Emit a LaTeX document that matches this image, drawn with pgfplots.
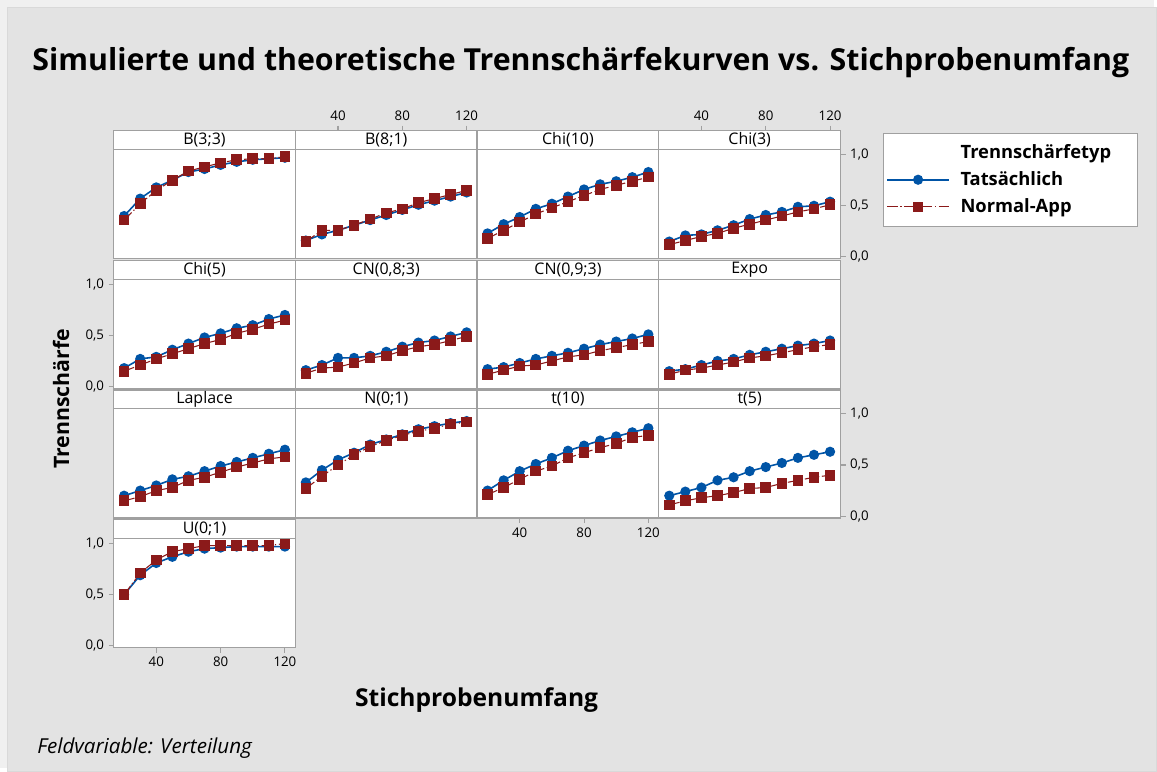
\documentclass[border=0pt]{standalone}
\usepackage{pgfplots}
\pgfplotsset{compat=1.18}
\usepackage{pgfplotstable}
\usepackage{fontspec}
\setmainfont{Open Sans}

\definecolor{bgouter}{HTML}{F0F0F0}
\definecolor{bgin}{HTML}{E3E3E3}
\definecolor{framegray}{HTML}{A0A0A0}
\definecolor{actblue}{HTML}{0054A6}
\definecolor{normred}{HTML}{8B1A1A}

\pgfplotstableread{
n a b
20 0.40 0.36
30 0.57 0.52
40 0.68 0.65
50 0.75 0.75
60 0.83 0.84
70 0.86 0.88
80 0.90 0.92
90 0.93 0.95
100 0.95 0.96
110 0.96 0.96
120 0.97 0.98
}\tBdd
\pgfplotstableread{
n a b
20 0.16 0.15
30 0.22 0.26
40 0.26 0.26
50 0.31 0.31
60 0.36 0.37
70 0.41 0.43
80 0.46 0.47
90 0.51 0.53
100 0.55 0.57
110 0.59 0.61
120 0.63 0.65
}\tBea
\pgfplotstableread{
n a b
20 0.23 0.18
30 0.32 0.26
40 0.39 0.34
50 0.47 0.42
60 0.52 0.48
70 0.59 0.54
80 0.66 0.60
90 0.71 0.66
100 0.74 0.70
110 0.78 0.74
120 0.83 0.78
}\tChiTen
\pgfplotstableread{
n a b
20 0.15 0.12
30 0.21 0.16
40 0.22 0.20
50 0.26 0.23
60 0.31 0.28
70 0.37 0.32
80 0.41 0.36
90 0.44 0.40
100 0.49 0.44
110 0.50 0.47
120 0.54 0.51
}\tChiThree
\pgfplotstableread{
n a b
20 0.18 0.15
30 0.27 0.21
40 0.29 0.27
50 0.36 0.32
60 0.42 0.37
70 0.48 0.42
80 0.52 0.46
90 0.57 0.52
100 0.60 0.56
110 0.66 0.61
120 0.70 0.65
}\tChiFive
\pgfplotstableread{
n a b
20 0.16 0.13
30 0.21 0.18
40 0.28 0.19
50 0.28 0.23
60 0.30 0.28
70 0.34 0.30
80 0.39 0.35
90 0.43 0.39
100 0.45 0.41
110 0.49 0.45
120 0.53 0.49
}\tCNa
\pgfplotstableread{
n a b
20 0.17 0.12
30 0.19 0.16
40 0.23 0.20
50 0.27 0.21
60 0.30 0.25
70 0.33 0.29
80 0.37 0.31
90 0.41 0.35
100 0.44 0.38
110 0.47 0.41
120 0.51 0.44
}\tCNb
\pgfplotstableread{
n a b
20 0.15 0.12
30 0.17 0.16
40 0.21 0.18
50 0.25 0.21
60 0.27 0.24
70 0.31 0.28
80 0.34 0.30
90 0.37 0.33
100 0.40 0.36
110 0.42 0.39
120 0.45 0.41
}\tExpo
\pgfplotstableread{
n a b
20 0.20 0.15
30 0.25 0.19
40 0.30 0.25
50 0.36 0.28
60 0.39 0.35
70 0.44 0.38
80 0.49 0.43
90 0.53 0.48
100 0.57 0.52
110 0.61 0.56
120 0.65 0.58
}\tLaplace
\pgfplotstableread{
n a b
20 0.33 0.27
30 0.45 0.39
40 0.55 0.50
50 0.62 0.60
60 0.70 0.68
70 0.75 0.74
80 0.80 0.79
90 0.85 0.83
100 0.88 0.86
110 0.91 0.90
120 0.93 0.92
}\tNorm
\pgfplotstableread{
n a b
20 0.25 0.21
30 0.35 0.28
40 0.44 0.36
50 0.51 0.44
60 0.57 0.49
70 0.64 0.57
80 0.69 0.62
90 0.74 0.67
100 0.78 0.71
110 0.82 0.77
120 0.86 0.79
}\tTTen
\pgfplotstableread{
n a b
20 0.20 0.11
30 0.24 0.15
40 0.28 0.18
50 0.35 0.20
60 0.38 0.23
70 0.44 0.27
80 0.48 0.28
90 0.52 0.32
100 0.57 0.35
110 0.60 0.38
120 0.63 0.40
}\tTFive
\pgfplotstableread{
n a b
20 0.50 0.50
30 0.69 0.71
40 0.81 0.84
50 0.87 0.92
60 0.92 0.95
70 0.95 0.98
80 0.96 0.98
90 0.97 0.98
100 0.97 0.98
110 0.97 0.98
120 0.97 1.00
}\tUnif

\pgfplotsset{
  panel/.style={
    scale only axis, width=136.6875pt, height=82.125pt,
    xmin=13.5, xmax=126.5, ymin=-0.018, ymax=1.05,
    axis background/.style={fill=white},
    axis line style={draw=framegray, line width=1pt},
    xtick=\empty, ytick=\empty,
    tick align=outside, major tick length=3.75pt,
    every tick/.style={framegray, line width=0.8pt},
    tick label style={font=\fontsize{10}{12}\selectfont, text=black},
    every axis title shift=0pt,
    title style={at={(0.5,1)}, anchor=south, yshift=0pt, draw=framegray,
      line width=1pt, fill=white, minimum width=136.6875pt,
      minimum height=14.25pt, inner sep=0pt, outer sep=0pt,
      font=\fontsize{12}{13}\selectfont, text=black},
  },
  xb/.style={xtick={40,80,120}, xticklabels={40,80,120}, xtick pos=bottom},
  xt/.style={xtick={40,80,120}, xticklabels={40,80,120}, xtick pos=top,
    every x tick/.append style={yshift=14.25pt},
    xticklabel style={yshift=14.25pt}},
  yl/.style={ytick={0,0.5,1}, yticklabels={{0,0},{0,5},{1,0}}, ytick pos=left},
  yr/.style={ytick={0,0.5,1}, yticklabels={{0,0},{0,5},{1,0}}, ytick pos=right},
  act/.style={actblue, line width=1.2pt, mark=*, mark size=3.2pt,
    mark options={solid, fill=actblue, draw=actblue}},
  norm/.style={normred, line width=0.8pt, dash pattern=on 8pt off 2pt on 1pt off 2pt,
    mark=square*, mark size=3.6pt, mark options={solid, fill=normred, draw=normred}},
}

\begin{document}
\begin{tikzpicture}
% background
\fill[bgouter] (0pt,0pt) rectangle (867.75pt,-577.5pt);
\filldraw[fill=bgin, draw=black!15, line width=0.6pt] (5.25pt,-5.25pt) rectangle (870pt,-580pt);

% Row 1
\begin{axis}[panel, at={(85.5pt,-194.625pt)}, title={B(3;3)}]
\addplot[act] table[x=n,y=a]{\tBdd};
\addplot[norm] table[x=n,y=b]{\tBdd};
\end{axis}
\begin{axis}[panel, xt, at={(222.1875pt,-194.625pt)}, title={B(8;1)}]
\addplot[act] table[x=n,y=a]{\tBea};
\addplot[norm] table[x=n,y=b]{\tBea};
\end{axis}
\begin{axis}[panel, at={(358.875pt,-194.625pt)}, title={Chi(10)}]
\addplot[act] table[x=n,y=a]{\tChiTen};
\addplot[norm] table[x=n,y=b]{\tChiTen};
\end{axis}
\begin{axis}[panel, xt, yr, at={(495.5625pt,-194.625pt)}, title={Chi(3)},
  legend style={at={(1.236,1.1553)}, anchor=north west, draw=framegray,
    line width=0.8pt, fill=white, font=\bfseries\fontsize{13.8}{16}\selectfont,
    inner xsep=1.75pt, inner ysep=6.5pt, row sep=4.5pt,
    /tikz/every odd column/.append style={column sep=6pt}},
  legend cell align=left,
  legend image code/.code={\draw[mark repeat=2,mark phase=2,#1] plot coordinates {(0cm,0cm) (0.82cm,0cm) (1.64cm,0cm)};}]
\addlegendimage{empty legend}
\addlegendentry{Trennschärfetyp\hspace*{16pt}}
\addplot[act] table[x=n,y=a]{\tChiThree};
\addlegendentry{Tatsächlich}
\addplot[norm] table[x=n,y=b]{\tChiThree};
\addlegendentry{Normal-App}
\end{axis}

% Row 2
\begin{axis}[panel, yl, at={(85.5pt,-292.125pt)}, title={Chi(5)}]
\addplot[act] table[x=n,y=a]{\tChiFive};
\addplot[norm] table[x=n,y=b]{\tChiFive};
\end{axis}
\begin{axis}[panel, at={(222.1875pt,-292.125pt)}, title={CN(0,8;3)}]
\addplot[act] table[x=n,y=a]{\tCNa};
\addplot[norm] table[x=n,y=b]{\tCNa};
\end{axis}
\begin{axis}[panel, at={(358.875pt,-292.125pt)}, title={CN(0,9;3)}]
\addplot[act] table[x=n,y=a]{\tCNb};
\addplot[norm] table[x=n,y=b]{\tCNb};
\end{axis}
\begin{axis}[panel, at={(495.5625pt,-292.125pt)}, title={Expo}]
\addplot[act] table[x=n,y=a]{\tExpo};
\addplot[norm] table[x=n,y=b]{\tExpo};
\end{axis}

% Row 3
\begin{axis}[panel, at={(85.5pt,-389.625pt)}, title={Laplace}]
\addplot[act] table[x=n,y=a]{\tLaplace};
\addplot[norm] table[x=n,y=b]{\tLaplace};
\end{axis}
\begin{axis}[panel, at={(222.1875pt,-389.625pt)}, title={N(0;1)}]
\addplot[act] table[x=n,y=a]{\tNorm};
\addplot[norm] table[x=n,y=b]{\tNorm};
\end{axis}
\begin{axis}[panel, xb, at={(358.875pt,-389.625pt)}, title={t(10)}]
\addplot[act] table[x=n,y=a]{\tTTen};
\addplot[norm] table[x=n,y=b]{\tTTen};
\end{axis}
\begin{axis}[panel, yr, at={(495.5625pt,-389.625pt)}, title={t(5)}]
\addplot[act] table[x=n,y=a]{\tTFive};
\addplot[norm] table[x=n,y=b]{\tTFive};
\end{axis}

% Row 4
\begin{axis}[panel, xb, yl, at={(85.5pt,-487.125pt)}, title={U(0;1)}]
\addplot[act] table[x=n,y=a]{\tUnif};
\addplot[norm] table[x=n,y=b]{\tUnif};
\end{axis}

% texts
\node[anchor=base, font=\bfseries\fontsize{22.8}{27}\selectfont] at (436.9pt,-53pt)
  {Simulierte und theoretische Trennschärfekurven vs. Stichprobenumfang};
\node[anchor=base, font=\bfseries\fontsize{18.5}{22}\selectfont] at (358.5pt,-531.5pt)
  {Stichprobenumfang};
\node[rotate=90, anchor=center, font=\bfseries\fontsize{16}{20}\selectfont] at (46pt,-300pt)
  {Trennschärfe};
\node[anchor=west, font=\itshape\fontsize{15.5}{18}\selectfont] at (24.5pt,-562.5pt)
  {Feldvariable: Verteilung};
\end{tikzpicture}
\end{document}
